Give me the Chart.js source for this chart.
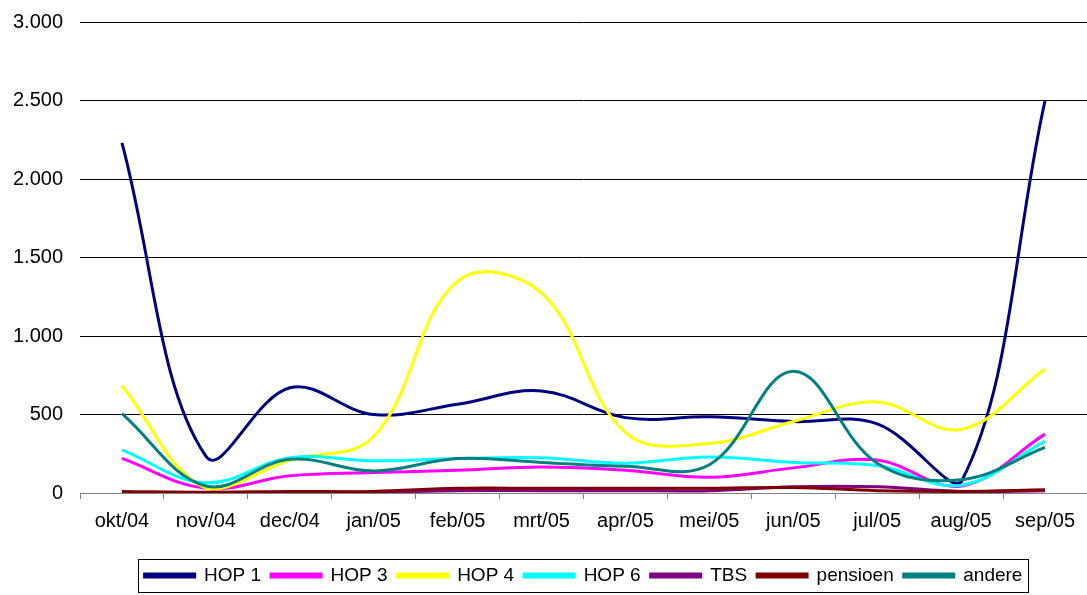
<!DOCTYPE html>
<html>
<head>
<meta charset="utf-8">
<script src="https://cdn.jsdelivr.net/npm/chart.js@4.4.0/dist/chart.umd.min.js"></script>
<style>
  html, body { margin: 0; padding: 0; background: #fff; }
  #wrap { width: 1087px; height: 595px; }
</style>
</head>
<body>
<div id="wrap"><canvas id="myChart"></canvas></div>
<script>
// Maanden (categorieën)
const months = ['okt/04', 'nov/04', 'dec/04', 'jan/05', 'feb/05', 'mrt/05',
                'apr/05', 'mei/05', 'jun/05', 'jul/05', 'aug/05', 'sep/05'];

// Waarden per reeks
const hop1     = [2230, 235, 670, 500, 565, 650, 480, 485, 455, 440, 70, 2500];
const hop3     = [220, 30, 110, 130, 145, 165, 145, 100, 160, 210, 45, 375];
const hop4     = [685, 30, 210, 360, 1350, 1275, 385, 315, 455, 580, 405, 790];
const hop6     = [275, 65, 225, 205, 220, 225, 190, 230, 195, 175, 50, 330];
const tbs      = [0, 0, 5, 5, 15, 15, 15, 15, 40, 40, 10, 15];
const pensioen = [10, 5, 10, 10, 30, 30, 30, 30, 35, 15, 10, 20];
const andere   = [505, 45, 215, 140, 220, 195, 170, 180, 775, 190, 85, 290];

// Y-as ticks
const yTicks = [0, 500, 1000, 1500, 2000, 2500, 3000];

const seriesNames = ['HOP 1', 'HOP 3', 'HOP 4', 'HOP 6', 'TBS', 'pensioen', 'andere'];
const seriesData = [hop1, hop3, hop4, hop6, tbs, pensioen, andere];
const seriesColors = ['#000080', '#ff00ff', '#ffff00', '#00ffff', '#800080', '#800000', '#008080'];

const FONT = "'Liberation Sans', Arial, sans-serif";

function fmt(v) {
    return String(v).replace(/\B(?=(\d{3})+(?!\d))/g, '.');
}

const datasets = seriesNames.map((name, i) => ({
    label: name,
    data: seriesData[i].map((v, k) => ({ x: k, y: v })),
    borderColor: seriesColors[i],
    backgroundColor: seriesColors[i],
    borderWidth: 3,
    pointRadius: 0,
    tension: 0.38,
    order: seriesNames.length - i
}));

// Kader rond de legenda
const legendBox = {
    id: 'legendBox',
    afterDraw(chart) {
        const boxes = chart.legend.legendHitBoxes;
        if (!boxes || !boxes.length) return;
        const first = boxes[0];
        const last = boxes[boxes.length - 1];
        const ctx = chart.ctx;
        ctx.save();
        ctx.strokeStyle = '#000';
        ctx.lineWidth = 1;
        const x0 = Math.round(first.left - 7) + 0.5;
        const x1 = Math.round(last.left + last.width + 6) + 0.5;
        const y0 = Math.round(first.top - 7) + 0.5;
        const y1 = Math.round(first.top + first.height + 7) + 0.5;
        ctx.strokeRect(x0, y0, x1 - x0, y1 - y0);
        ctx.restore();
    }
};

const ctx = document.getElementById('myChart').getContext('2d');

const chart = new Chart(ctx, {
    type: 'line',
    data: { datasets: datasets },
    options: {
        responsive: true,
        maintainAspectRatio: false,
        animation: false,
        layout: { padding: { top: 22, right: 0, bottom: 0, left: 0 } },
        plugins: {
            tooltip: { enabled: false },
            legend: {
                position: 'bottom',
                fullSize: false,
                labels: {
                    font: { family: FONT, size: 19 },
                    color: '#000',
                    boxWidth: 50,
                    boxHeight: 3,
                    padding: 10,
                    sort: (a, b) => a.datasetIndex - b.datasetIndex
                }
            }
        },
        scales: {
            x: {
                type: 'linear',
                min: -0.5,
                max: 11.5,
                afterBuildTicks: (scale) => {
                    scale.ticks = months.map((m, i) => ({ value: i }));
                },
                afterFit: (scale) => { scale.height = 63; },
                ticks: {
                    autoSkip: false,
                    maxRotation: 0,
                    padding: 10,
                    color: '#000',
                    font: { family: FONT, size: 20 },
                    callback: (value) => months[value]
                },
                grid: {
                    offset: true,
                    drawOnChartArea: false,
                    color: '#808080',
                    tickLength: 6
                },
                border: { color: '#808080', width: 1 }
            },
            y: {
                min: 0,
                max: 3000,
                afterBuildTicks: (scale) => {
                    scale.ticks = yTicks.map(v => ({ value: v }));
                },
                afterFit: (scale) => {
                    scale.width = 80;
                    scale.paddingTop = 0;
                    scale.paddingBottom = 0;
                },
                ticks: {
                    padding: 17,
                    color: '#000',
                    font: { family: FONT, size: 20 },
                    callback: (value) => fmt(value)
                },
                grid: {
                    drawTicks: false,
                    color: (c) => c.tick && c.tick.value === 0 ? 'rgba(0,0,0,0)' : '#000',
                    lineWidth: 1
                },
                border: { display: false }
            }
        }
    },
    plugins: [legendBox]
});
</script>
</body>
</html>
